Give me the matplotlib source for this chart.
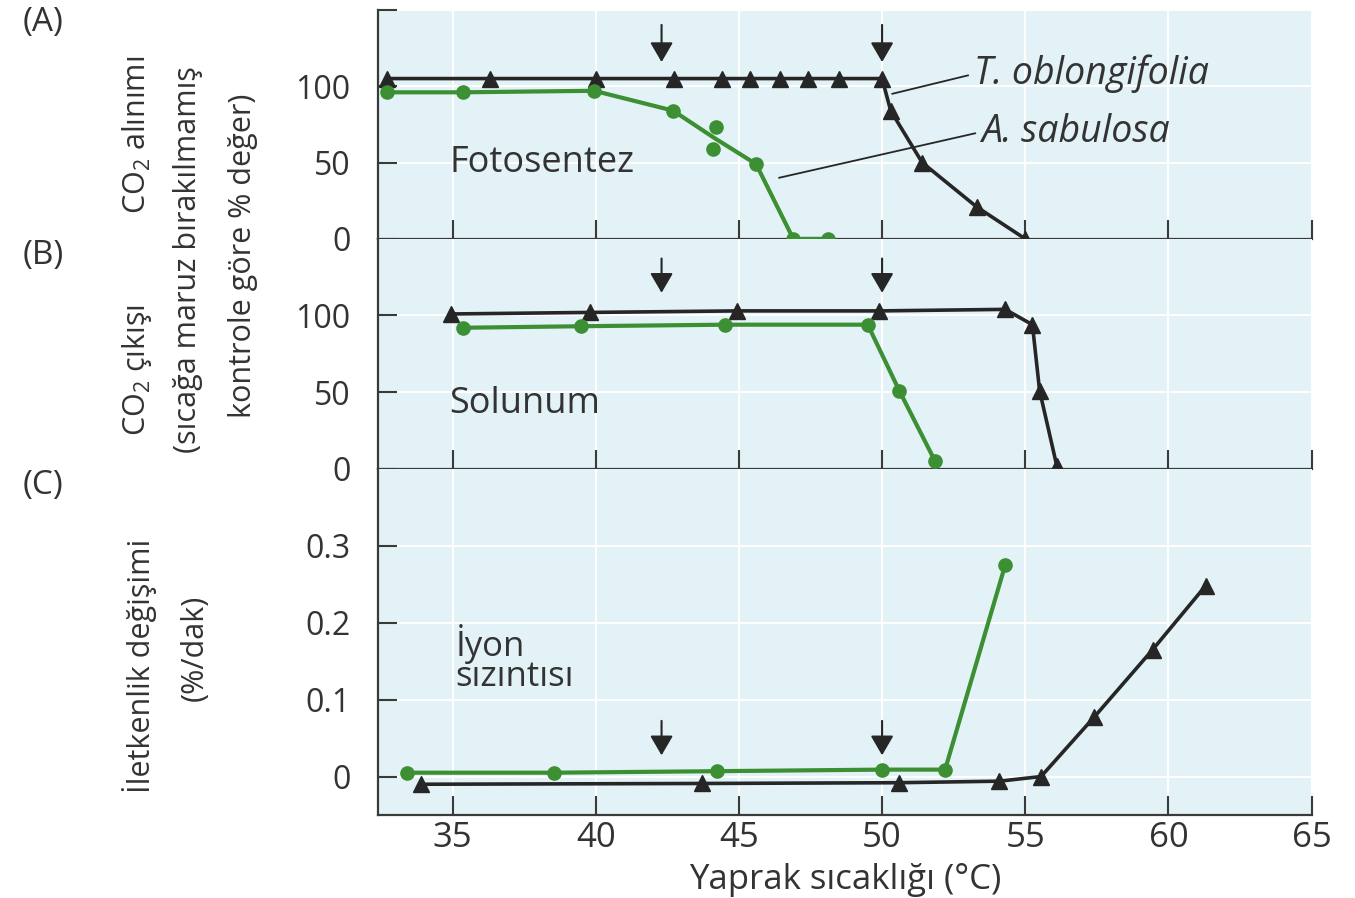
import numpy as np
import matplotlib
matplotlib.use('Agg')
from matplotlib import pyplot as plt

plt.rcParams['font.family'] = ['Open Sans', 'DejaVu Sans']
plt.rcParams['mathtext.default'] = 'regular'

# (A) Fotosentez - CO2 alinimi, % of control
t_photo_x = [32.7, 36.3, 40.0, 42.75, 44.4, 45.4, 46.45, 47.4, 48.5, 50.0, 50.3, 51.4, 53.3, 55.0]
t_photo_y = [105, 105, 105, 105, 105, 105, 105, 105, 105, 105, 84, 50, 21, 0]
a_photo_x = [32.7, 35.35, 39.95, 42.7, 45.6, 46.9, 48.1]
a_photo_y = [96, 96, 97, 84, 49, 0, 0]
a_photo_rep_x = [44.2, 44.1]          # two replicates at the same temperature
a_photo_rep_y = [73, 59]

# (B) Solunum - CO2 cikisi, % of control
t_resp_x = [34.95, 39.8, 44.95, 49.9, 54.3, 55.25, 55.5, 56.1]
t_resp_y = [101, 102, 103, 103, 104, 94, 51, 2]
a_resp_x = [35.35, 39.5, 44.5, 49.5, 50.6, 51.85]
a_resp_y = [92, 93, 94, 94, 51, 5]

# (C) Iyon sizintisi - iletkenlik degisimi (%/dak)
t_ion_x = [33.9, 43.7, 50.6, 54.1, 55.55, 57.4, 59.45, 61.3]
t_ion_y = [-0.010, -0.009, -0.008, -0.006, 0.0, 0.077, 0.165, 0.248]
a_ion_x = [33.4, 38.55, 44.25, 50.0, 52.2, 54.3]
a_ion_y = [0.005, 0.005, 0.007, 0.009, 0.009, 0.275]

# thresholds marked with arrows
arrow_x = [42.3, 50.0]

x_ticks = [35, 40, 45, 50, 55, 60, 65]

BG = '#e3f2f6'
DARK = '#262626'
GREEN = '#3c8f33'
TXT = '#333333'


def style_axis(ax, ylim, yticks, ylabels, show_x=False):
    ax.set_facecolor(BG)
    ax.set_xlim(32.4, 65)
    ax.set_ylim(*ylim)
    ax.set_xticks(x_ticks)
    ax.set_yticks(yticks)
    ax.set_yticklabels(ylabels)
    ax.grid(True, color='white', lw=1.4, zorder=0)
    ax.set_axisbelow(True)
    for s in ['top', 'right']:
        ax.spines[s].set_visible(False)
    for s in ['left', 'bottom']:
        ax.spines[s].set_color('#3a3a3a')
        ax.spines[s].set_linewidth(1.6)
    ax.tick_params(axis='both', direction='in', length=14, width=1.5,
                   color='#3a3a3a', labelcolor=TXT)
    ax.tick_params(axis='y', labelsize=23, pad=20)
    ax.tick_params(axis='x', labelsize=25, pad=4, labelbottom=show_x)


def draw_arrows(ax, y_tail, y_tip):
    for xa in arrow_x:
        ax.annotate('', xy=(xa, y_tip), xytext=(xa, y_tail),
                    arrowprops=dict(arrowstyle='-|>,head_width=0.35,head_length=0.6',
                                    color=DARK, lw=1.5, mutation_scale=20))


fig = plt.figure(figsize=(13.55, 8.98), dpi=100)
axA = fig.add_axes([0.279, 0.734, 0.689, 0.255])
axB = fig.add_axes([0.279, 0.478, 0.689, 0.256])
axC = fig.add_axes([0.279, 0.0924, 0.689, 0.3856])

# ---- (A)
style_axis(axA, (0, 150), [0, 50, 100, 150], ['0', '50', '100', ''])
axA.plot(t_photo_x, t_photo_y, color=DARK, lw=2.6, marker='^', ms=11, zorder=3)
line_x = a_photo_x[:4] + [np.mean(a_photo_rep_x)] + a_photo_x[4:]
line_y = a_photo_y[:4] + [np.mean(a_photo_rep_y)] + a_photo_y[4:]
axA.plot(line_x, line_y, color=GREEN, lw=3, zorder=3)
axA.plot(a_photo_x + a_photo_rep_x, a_photo_y + a_photo_rep_y, ls='none',
         marker='o', ms=9.5, color=GREEN, zorder=4)
draw_arrows(axA, 142, 114)
axA.text(34.9, 50, 'Fotosentez', fontsize=26, color=TXT, va='center', ha='left')
axA.annotate('T. oblongifolia', xy=(50.35, 95), xytext=(53.2, 108),
             fontsize=27, style='italic', color=TXT, va='center', ha='left',
             arrowprops=dict(arrowstyle='-', color=DARK, lw=1.3,
                             relpos=(0, 0.5), shrinkA=2, shrinkB=0))
axA.annotate('A. sabulosa', xy=(46.4, 40), xytext=(53.45, 70),
             fontsize=27, style='italic', color=TXT, va='center', ha='left',
             arrowprops=dict(arrowstyle='-', color=DARK, lw=1.3,
                             relpos=(0, 0.5), shrinkA=2, shrinkB=0))

# ---- (B)
style_axis(axB, (0, 150), [0, 50, 100], ['0', '50', '100'])
axB.plot(t_resp_x, t_resp_y, color=DARK, lw=2.6, marker='^', ms=11, zorder=3)
axB.plot(a_resp_x, a_resp_y, color=GREEN, lw=3, marker='o', ms=9.5, zorder=3)
draw_arrows(axB, 139, 113)
axB.text(34.9, 42, 'Solunum', fontsize=26, color=TXT, va='center', ha='left')

# ---- (C)
style_axis(axC, (-0.05, 0.40), [0, 0.1, 0.2, 0.3], ['0', '0.1', '0.2', '0.3'], show_x=True)
axC.plot(t_ion_x, t_ion_y, color=DARK, lw=2.6, marker='^', ms=11, zorder=3)
axC.plot(a_ion_x, a_ion_y, color=GREEN, lw=3, marker='o', ms=9.5, zorder=3)
draw_arrows(axC, 0.076, 0.024)
axC.text(35.1, 0.172, 'İyon', fontsize=25, color=TXT, va='center', ha='left')
axC.text(35.1, 0.129, 'sızıntısı', fontsize=25, color=TXT, va='center', ha='left')
axC.set_xlabel('Yaprak sıcaklığı (°C)', fontsize=25, color=TXT, labelpad=6)

# ---- y labels and panel letters
fig.text(0.101, 0.850, 'CO$_2$ alınımı', rotation=90, fontsize=22, color=TXT,
         ha='center', va='center')
fig.text(0.139, 0.711, '(sıcağa maruz bırakılmamış', rotation=90, fontsize=22,
         color=TXT, ha='center', va='center')
fig.text(0.179, 0.715, 'kontrole göre % değer)', rotation=90, fontsize=22,
         color=TXT, ha='center', va='center')
fig.text(0.101, 0.588, 'CO$_2$ çıkışı', rotation=90, fontsize=22, color=TXT,
         ha='center', va='center')
fig.text(0.103, 0.259, 'İletkenlik değişimi', rotation=90, fontsize=22, color=TXT,
         ha='center', va='center')
fig.text(0.144, 0.278, '(%/dak)', rotation=90, fontsize=22, color=TXT,
         ha='center', va='center')

for lab, yp in [('(A)', 0.975), ('(B)', 0.716), ('(C)', 0.459)]:
    fig.text(0.032, yp, lab, fontsize=24, color=TXT, ha='center', va='center')

fig.savefig('out.png', dpi=100)
